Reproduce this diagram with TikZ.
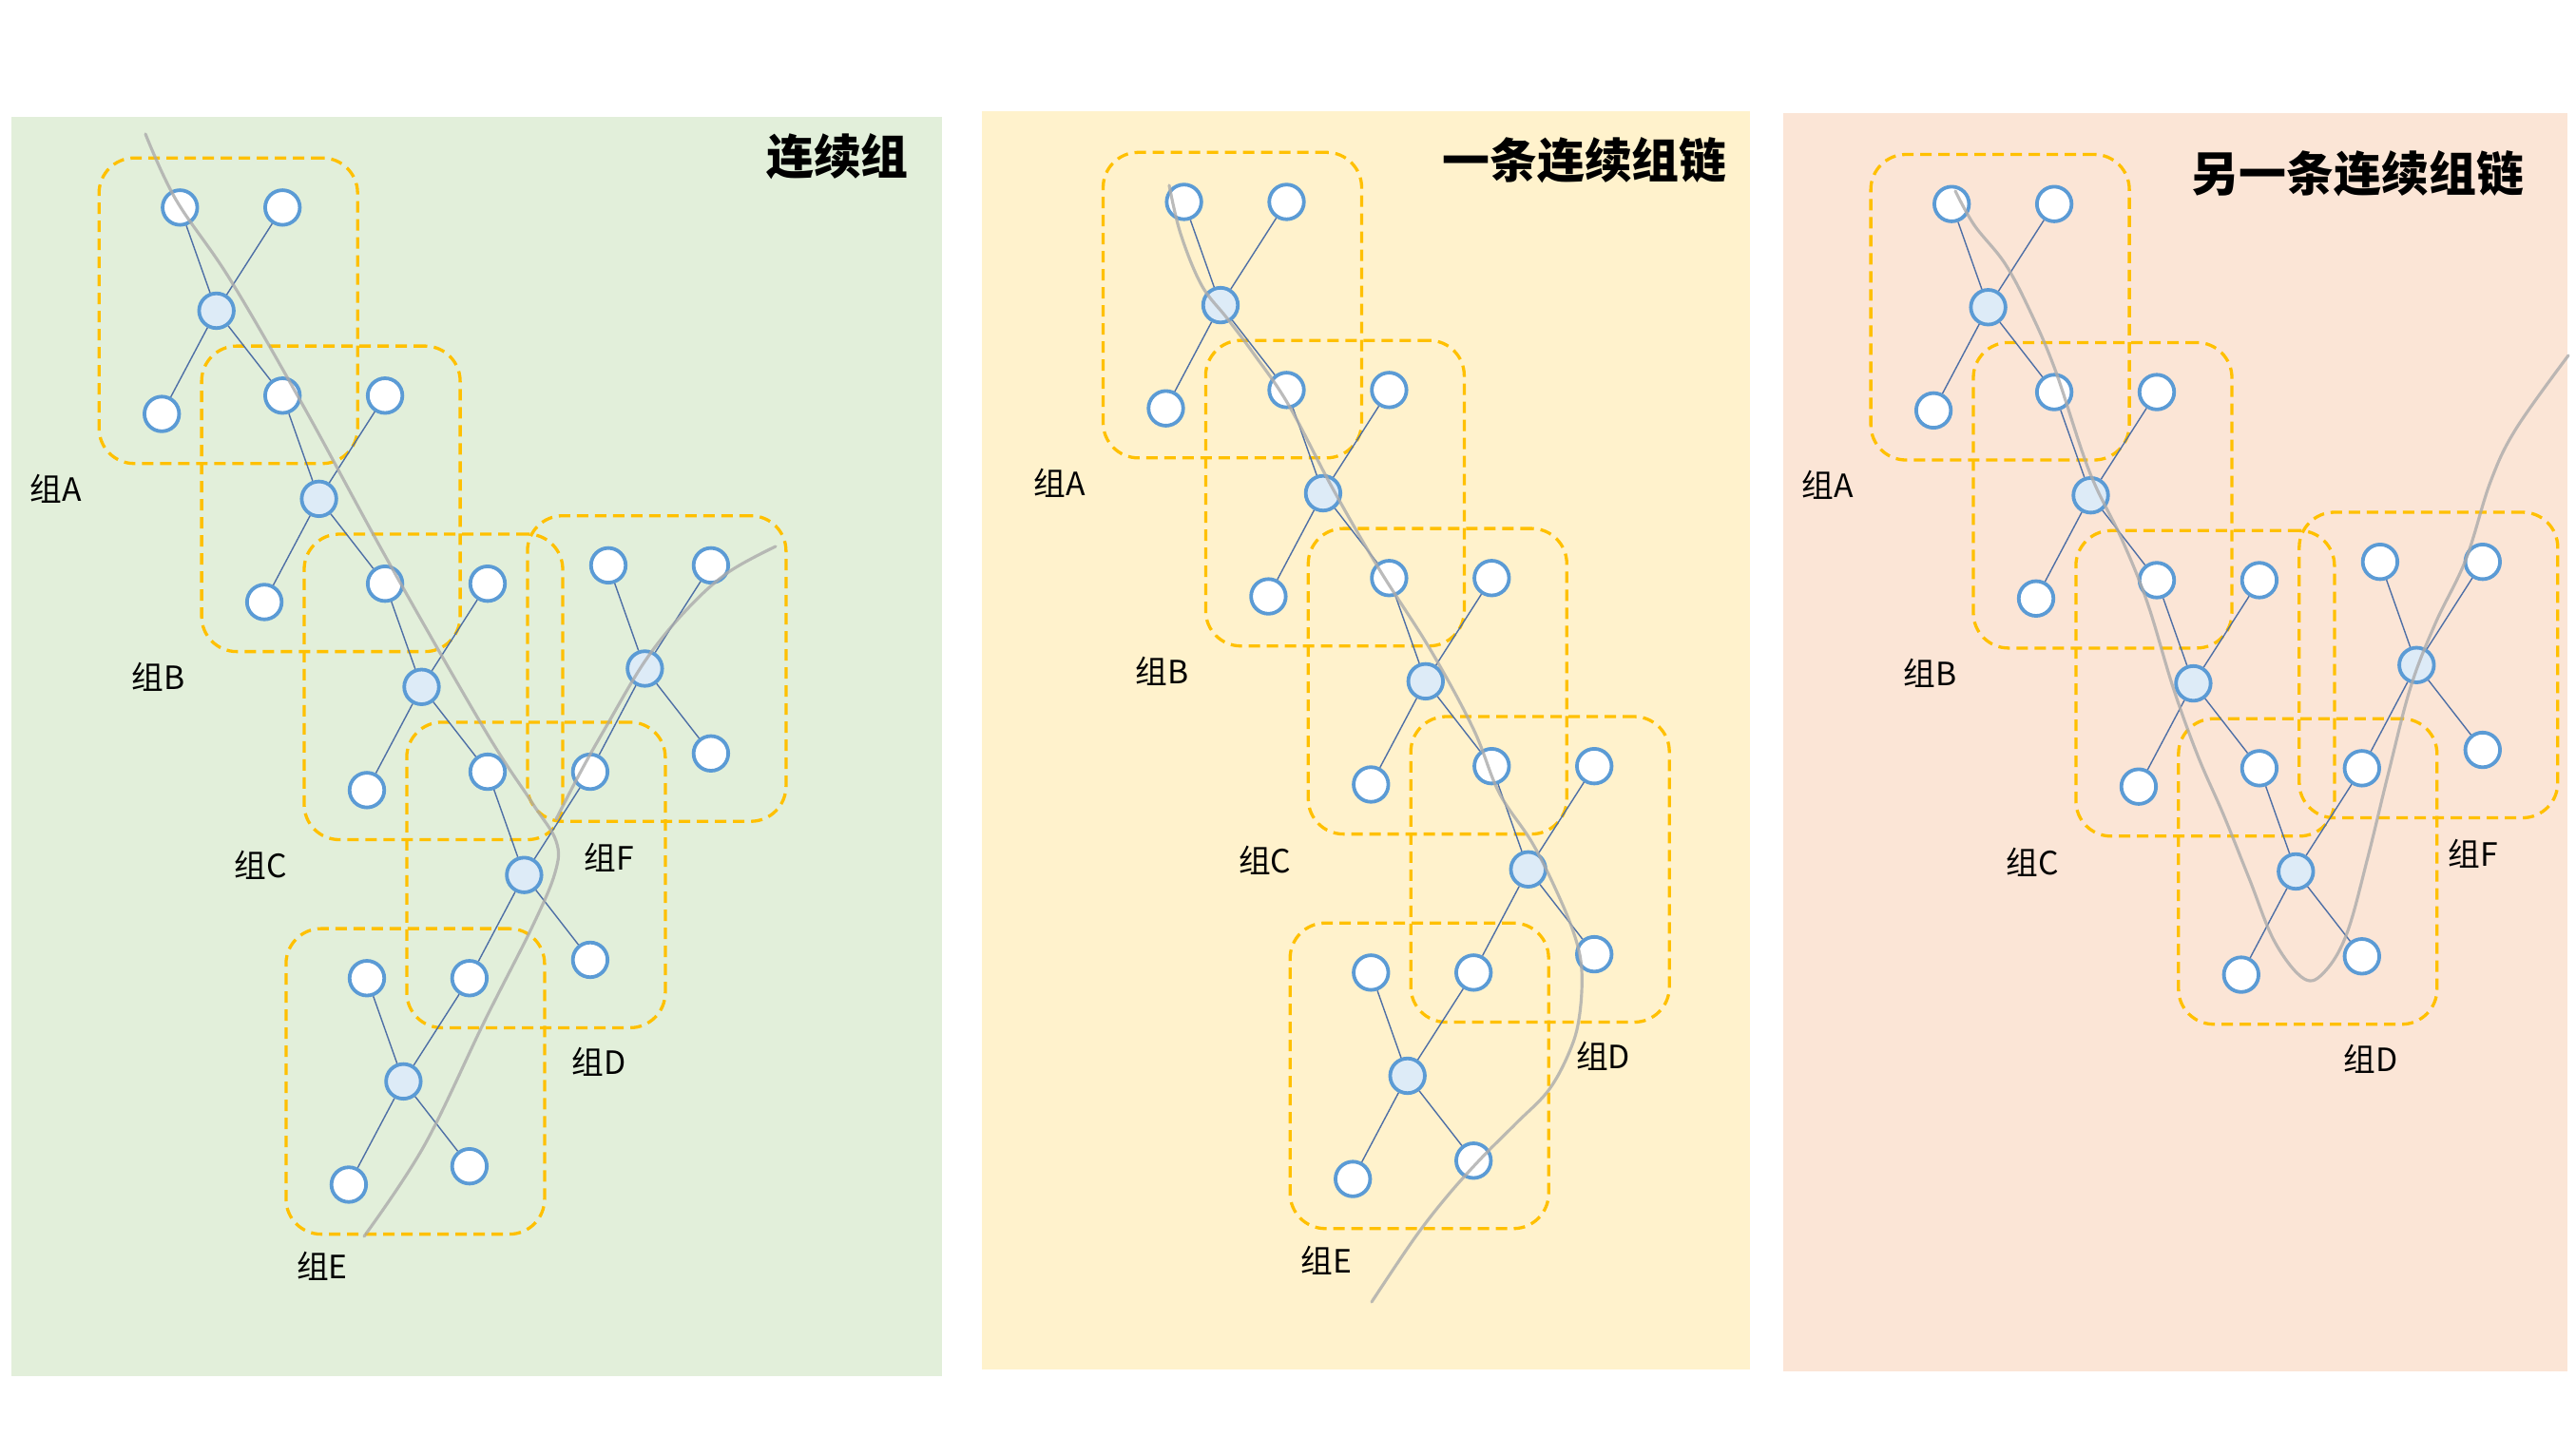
\documentclass[tikz,border=0pt]{standalone}
\usepackage{fontspec}
\setmainfont{Noto Sans CJK SC}
\usetikzlibrary{calc}

\definecolor{panelgreen}{HTML}{E2EFDA}
\definecolor{panelyellow}{HTML}{FFF2CC}
\definecolor{panelpeach}{HTML}{FBE5D6}
\definecolor{ringblue}{HTML}{5B9BD5}
\definecolor{hubfill}{HTML}{DDEBF7}
\definecolor{linkblue}{HTML}{4E6FA6}
\definecolor{boxgold}{HTML}{FFC000}
\definecolor{pencil}{HTML}{ABABAB}

\begin{document}
\begin{tikzpicture}[
    leaf/.style = {circle, draw = ringblue, fill = white, line width = 0.038cm,
        minimum size = 0.365cm, inner sep = 0pt},
    hub/.style = {leaf, fill = hubfill},
    corner tl/.style = {xshift = -3.84mm, yshift = 10.86mm},
    corner tr/.style = {xshift = 6.95mm, yshift = 10.86mm},
    corner bl/.style = {xshift = -5.75mm, yshift = -10.86mm},
    corner br/.style = {xshift = 6.95mm, yshift = -8.93mm},
    link/.style = {draw = linkblue, line width = 0.4pt},
    grpbox/.style = {draw = boxgold, line width = 0.033cm, rounded corners = 0.37cm,
        dash pattern = on 0.12cm off 0.07cm, minimum width = 2.72cm,
        minimum height = 3.215cm, xshift = 1.25mm, inner sep = 0pt},
    grplabel/.style = {font = \fontsize{9.6}{11}\selectfont},
    paneltitle/.style = {anchor = east, inner sep = 0pt,
        font = \fontsize{14.2}{17}\selectfont\bfseries},
    pencil line/.style = {draw = pencil, line width = 0.9pt, opacity = 0.8,
        line cap = round, line join = round}
]
\useasboundingbox (0,0) rectangle (27.10,15.11);

% three panels
\fill[panelgreen] (0.12,0.63) rectangle (9.91,13.88);
\fill[panelyellow] (10.33,0.70) rectangle (18.41,13.94);
\fill[panelpeach] (18.76,0.68) rectangle (27.01,13.92);

\node[paneltitle] (title1) at (9.566,13.46) {连续组};
\node[paneltitle] (title2) at (18.175,13.42) {一条连续组链};
\node[paneltitle] (title3) at (26.56,13.28) {另一条连续组链};

% group centres, one chain per panel
\foreach \p/\x/\y in {1/2.277/11.84, 2/12.84/11.899, 3/20.916/11.877}{
    \path (\x,\y) coordinate (A\p)
        ++(1.079,-1.979) coordinate (B\p)
        ++(1.079,-1.979) coordinate (C\p)
        ++(1.079,-1.979) coordinate (D\p)
        ++(-1.27,-2.172) coordinate (E\p)
        ++(2.54,4.344) coordinate (F\p);
}

% dashed group boxes
\foreach \g in {A1,B1,C1,D1,E1,F1, A2,B2,C2,D2,E2, A3,B3,C3,D3,F3}
    \node[grpbox] (box\g) at (\g) {};

% hubs and leaves
\foreach \p in {1,2,3}{
    \foreach \g in {A,B,C,D}
        \node[hub] (hub\g\p) at (\g\p) {};
    \foreach \g/\c in {A/tl, A/tr, A/bl, A/br, B/tr, B/bl, B/br,
            C/tr, C/bl, C/br, D/tr, D/bl, D/br}
        \node[leaf, corner \c] (\g\p\c) at (\g\p) {};
    \foreach \h/\g/\c in {A/A/tl, A/A/tr, A/A/bl, A/A/br, B/A/br, B/B/tr, B/B/bl, B/B/br,
            C/B/br, C/C/tr, C/C/bl, C/C/br, D/C/br, D/D/tr, D/D/bl, D/D/br}
        \draw[link] (hub\h\p) -- (\g\p\c);
    \foreach \g/\dx/\dy in {A/-1.69/-1.87, B/-1.69/-1.87, C/-1.69/-1.88, D/0.79/-1.97}
        \node[grplabel] (lab\g\p) at ($(\g\p)+(\dx,\dy)$) {组\g};
}

% group E (panels 1 and 2)
\foreach \p in {1,2}{
    \node[hub] (hubE\p) at (E\p) {};
    \foreach \c in {tl,bl,br}
        \node[leaf, corner \c] (E\p\c) at (E\p) {};
    \foreach \g/\c in {E/tl, D/bl, E/bl, E/br}
        \draw[link] (hubE\p) -- (\g\p\c);
    \node[grplabel] (labE\p) at ($(E\p)+(-0.855,-1.94)$) {组E};
}

% group F (panels 1 and 3)
\foreach \p/\dx in {1/-0.375, 3/0.597}{
    \node[hub] (hubF\p) at (F\p) {};
    \foreach \c in {tl,tr,br}
        \node[leaf, corner \c] (F\p\c) at (F\p) {};
    \foreach \g/\c in {F/tl, F/tr, D/tr, F/br}
        \draw[link] (hubF\p) -- (\g\p\c);
    \node[grplabel] (labF\p) at ($(F\p)+(\dx,-1.99)$) {组F};
}

% pencil strokes
\draw[pencil line] plot[smooth, tension=0.6] coordinates {
    (1.53,13.70) (1.85,13.01) (2.42,12.17) (3.19,10.84) (4.08,9.21)
    (5.10,7.43) (5.60,6.66) (5.85,6.26) (5.84,5.93) (5.60,5.36)
    (5.10,4.37) (4.46,3.05) (3.83,2.10)};
\draw[pencil line] plot[smooth, tension=0.6] coordinates {
    (8.16,9.36) (7.65,9.08) (7.21,8.68) (6.79,8.16) (6.38,7.47)
    (6.12,7.01) (5.85,6.49)};
\draw[pencil line] plot[smooth, tension=0.6] coordinates {
    (12.30,13.16) (12.42,12.65) (12.64,12.11) (12.91,11.76) (13.18,11.40)
    (13.55,10.86) (14.02,9.97) (14.51,9.12) (15.05,8.27) (15.50,7.44)
    (15.77,6.77) (16.12,6.24) (16.39,5.70) (16.57,5.25) (16.64,4.90)
    (16.62,4.45) (16.53,4.09) (16.30,3.65) (15.95,3.29) (15.59,2.93)
    (15.23,2.53) (14.88,2.08) (14.43,1.41)};
\draw[pencil line] plot[smooth, tension=0.6] coordinates {
    (20.57,13.10) (20.77,12.74) (21.09,12.34) (21.35,11.85) (21.62,11.22)
    (21.98,10.15) (22.32,9.44) (22.59,8.77) (22.86,7.88) (23.12,7.16)
    (23.39,6.54) (23.66,5.87) (23.93,5.20) (24.24,4.81) (24.46,4.89)
    (24.69,5.29) (24.91,6.09) (25.13,6.99) (25.36,7.88) (25.62,8.55)
    (25.94,9.22) (26.20,10.04) (26.47,10.60) (27.02,11.37)};

\end{tikzpicture}
\end{document}
